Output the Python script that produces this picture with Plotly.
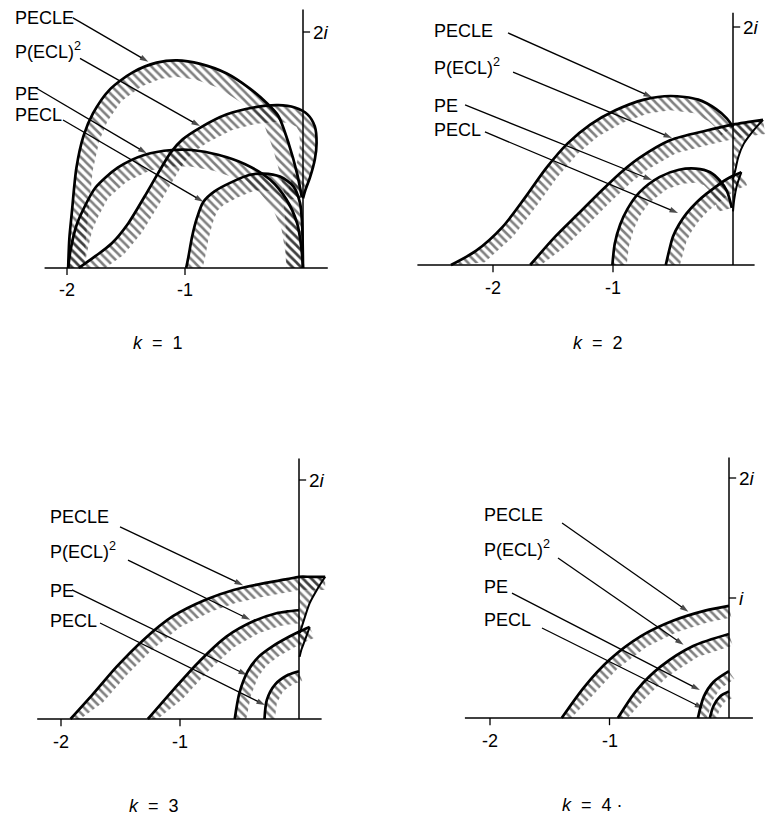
import numpy as np
import plotly.graph_objects as go

FIG_W, FIG_H = 771, 823

# ---------------------------------------------------------------------------
# Stability-region boundaries (real part, imaginary part) for k = 1..4
# "_RX/_RY" arrays are the return branch after a cusp.
# ---------------------------------------------------------------------------
K1_PECLE_X = [-1.99, -1.98, -1.96, -1.92, -1.86, -1.78, -1.64, -1.44, -1.24, -1.07, -0.87, -0.65, -0.45, -0.31, -0.21, -0.12, -0.05, -0.01]
K1_PECLE_Y = [0.0, 0.25, 0.46, 0.85, 1.12, 1.31, 1.51, 1.66, 1.74, 1.76, 1.73, 1.65, 1.52, 1.40, 1.29, 1.05, 0.80, 0.60]
K1_PECL2_X = [-1.90, -1.76, -1.62, -1.48, -1.34, -1.23, -1.12, -1.02, -0.87, -0.65, -0.42, -0.21, -0.07, 0.04, 0.10, 0.115, 0.10, 0.06, 0.02, 0.0]
K1_PECL2_Y = [0.0, 0.10, 0.21, 0.38, 0.61, 0.80, 0.98, 1.09, 1.19, 1.30, 1.36, 1.38, 1.36, 1.30, 1.20, 1.06, 0.92, 0.77, 0.66, 0.59]
K1_PE_X = [-1.99, -1.97, -1.92, -1.86, -1.76, -1.57, -1.34, -1.11, -0.94, -0.72, -0.49, -0.28, -0.14, -0.05, -0.015, 0.0]
K1_PE_Y = [0.0, 0.15, 0.36, 0.50, 0.68, 0.85, 0.96, 1.00, 1.00, 0.96, 0.88, 0.75, 0.58, 0.38, 0.18, 0.0]
K1_PECL_X = [-0.99, -0.97, -0.94, -0.90, -0.845, -0.75, -0.60, -0.45, -0.34, -0.195, -0.08, -0.025, -0.008, 0.0]
K1_PECL_Y = [0.0, 0.10, 0.265, 0.42, 0.56, 0.65, 0.73, 0.79, 0.80, 0.775, 0.69, 0.55, 0.38, 0.0]

K2_PECLE_X = [-2.35, -2.14, -1.92, -1.73, -1.56, -1.38, -1.19, -0.98, -0.74, -0.52, -0.29, -0.14, -0.05, 0.0]
K2_PECLE_Y = [0.0, 0.12, 0.32, 0.57, 0.81, 1.02, 1.18, 1.30, 1.39, 1.42, 1.39, 1.31, 1.23, 1.16]
K2_PECL2_X = [-1.69, -1.48, -1.29, -1.09, -0.92, -0.78, -0.52, -0.22, 0.0, 0.12, 0.25]
K2_PECL2_Y = [0.0, 0.24, 0.43, 0.63, 0.79, 0.90, 1.05, 1.13, 1.18, 1.20, 1.22]
K2_PECL2_RX = [0.25, 0.17, 0.09, 0.045, 0.02, 0.0]
K2_PECL2_RY = [1.22, 1.13, 1.02, 0.91, 0.80, 0.72]
K2_PE_X = [-1.005, -0.985, -0.94, -0.88, -0.78, -0.61, -0.45, -0.31, -0.19, -0.11, -0.05, -0.01]
K2_PE_Y = [0.0, 0.18, 0.34, 0.47, 0.61, 0.74, 0.80, 0.81, 0.78, 0.71, 0.62, 0.48]
K2_PECL_X = [-0.56, -0.53, -0.50, -0.45, -0.39, -0.30, -0.22, -0.14, -0.07, 0.0, 0.07]
K2_PECL_Y = [0.0, 0.13, 0.24, 0.34, 0.43, 0.53, 0.60, 0.66, 0.71, 0.75, 0.78]
K2_PECL_RX = [0.07, 0.03, 0.01, 0.0]
K2_PECL_RY = [0.78, 0.66, 0.55, 0.45]

K3_PECLE_X = [-1.92, -1.73, -1.53, -1.31, -1.06, -0.78, -0.55, -0.30, -0.10, 0.0, 0.10, 0.22]
K3_PECLE_Y = [0.0, 0.21, 0.44, 0.66, 0.86, 1.00, 1.08, 1.135, 1.17, 1.19, 1.19, 1.19]
K3_PECLE_RX = [0.22, 0.15, 0.09, 0.05, 0.023, 0.008]
K3_PECLE_RY = [1.19, 1.08, 0.97, 0.855, 0.77, 0.72]
K3_PECL2_X = [-1.27, -1.06, -0.83, -0.61, -0.38, -0.19, -0.10, 0.0]
K3_PECL2_Y = [0.0, 0.24, 0.49, 0.69, 0.82, 0.885, 0.90, 0.91]
K3_PE_X = [-0.54, -0.50, -0.43, -0.34, -0.22, -0.08, 0.0, 0.09]
K3_PE_Y = [0.0, 0.22, 0.40, 0.52, 0.61, 0.69, 0.73, 0.77]
K3_PE_RX = [0.09, 0.05, 0.02, 0.005]
K3_PE_RY = [0.77, 0.66, 0.58, 0.52]
K3_PECL_X = [-0.29, -0.27, -0.20, -0.09, 0.0]
K3_PECL_Y = [0.0, 0.16, 0.29, 0.37, 0.40]

K4_PECLE_X = [-1.40, -1.21, -1.00, -0.74, -0.47, -0.20, 0.0]
K4_PECLE_Y = [0.0, 0.26, 0.485, 0.68, 0.81, 0.895, 0.935]
K4_PECL2_X = [-0.93, -0.77, -0.57, -0.30, 0.0]
K4_PECL2_Y = [0.0, 0.235, 0.43, 0.60, 0.70]
K4_PE_X = [-0.26, -0.21, -0.13, 0.0]
K4_PE_Y = [0.0, 0.18, 0.30, 0.39]
K4_PECL_X = [-0.16, -0.13, -0.075, 0.0]
K4_PECL_Y = [0.0, 0.10, 0.18, 0.22]

METHOD_LABELS = ["PECLE", "P(ECL)<sup>2</sup>", "PE", "PECL"]
X_TICKS = [-2, -1]
X_TICK_TEXT = ["-2", "-1"]
PANEL_TITLES = ["<i>k</i>  =  1", "<i>k</i>  =  2", "<i>k</i>  =  3", "<i>k</i>  =  4 ·"]
Y_TICKS = [[2], [2], [2], [1, 2]]
Y_TICK_TEXT = [["2<i>i</i>"], ["2<i>i</i>"], ["2<i>i</i>"], ["<i>i</i>", "2<i>i</i>"]]

# ---------------------------------------------------------------------------
# Panel geometry: pixel origin, pixel scale, pixel box, axis extents
# ---------------------------------------------------------------------------
PANELS = [
    dict(ox=303, oy=268, sx=118, sy=118, box=(0, 385, 0, 325), xline=(-2.19, 0.21), ytop=2.19,
         band=0.14, title=(158, 343)),
    dict(ox=733, oy=265, sx=120, sy=119, box=(392, 771, 0, 325), xline=(-2.63, 0.18), ytop=2.12,
         band=0.12, title=(598, 343)),
    dict(ox=299, oy=719, sx=119, sy=119.5, box=(0, 385, 420, 785), xline=(-2.20, 0.19), ytop=2.18,
         band=0.11, title=(154, 806)),
    dict(ox=729, oy=718, sx=119.5, sy=120, box=(392, 771, 420, 785), xline=(-2.21, 0.20), ytop=2.17,
         band=0.10, title=(592, 805)),
]

CURVES = [
    [(K1_PECLE_X, K1_PECLE_Y, None), (K1_PECL2_X, K1_PECL2_Y, None),
     (K1_PE_X, K1_PE_Y, None), (K1_PECL_X, K1_PECL_Y, None)],
    [(K2_PECLE_X, K2_PECLE_Y, None), (K2_PECL2_X, K2_PECL2_Y, (K2_PECL2_RX, K2_PECL2_RY)),
     (K2_PE_X, K2_PE_Y, None), (K2_PECL_X, K2_PECL_Y, (K2_PECL_RX, K2_PECL_RY))],
    [(K3_PECLE_X, K3_PECLE_Y, (K3_PECLE_RX, K3_PECLE_RY)), (K3_PECL2_X, K3_PECL2_Y, None),
     (K3_PE_X, K3_PE_Y, (K3_PE_RX, K3_PE_RY)), (K3_PECL_X, K3_PECL_Y, None)],
    [(K4_PECLE_X, K4_PECLE_Y, None), (K4_PECL2_X, K4_PECL2_Y, None),
     (K4_PE_X, K4_PE_Y, None), (K4_PECL_X, K4_PECL_Y, None)],
]
BAND_SCALE = [
    [1.0, 1.0, 1.0, 1.0],
    [1.0, 1.0, 1.0, 1.0],
    [1.0, 1.0, 0.9, 0.8],
    [1.0, 1.0, 0.8, 0.6],
]

# label anchors (data units) and arrow tail -> tip (data units)
LABEL_POS = [
    [(-2.458, 2.119), (-2.458, 1.84), (-2.458, 1.475), (-2.458, 1.30)],
    [(-2.508, 1.966), (-2.508, 1.67), (-2.508, 1.336), (-2.508, 1.134)],
    [(-2.109, 1.69), (-2.109, 1.41), (-2.109, 1.07), (-2.109, 0.82)],
    [(-2.067, 1.69), (-2.067, 1.41), (-2.067, 1.09), (-2.067, 0.82)],
]
ARROWS = [
    [((-1.95, 2.12), (-1.311, 1.748)), ((-1.89, 1.777), (-0.873, 1.203)),
     ((-2.27, 1.53), (-1.325, 0.972)), ((-2.034, 1.254), (-0.845, 0.562))],
    [((-1.875, 1.95), (-0.675, 1.41)), ((-1.833, 1.62), (-0.508, 1.067)),
     ((-2.233, 1.345), (-0.675, 0.714)), ((-2.067, 1.118), (-0.458, 0.437))],
    [((-1.504, 1.607), (-0.47, 1.12)), ((-1.437, 1.33), (-0.41, 0.83)),
     ((-1.908, 1.08), (-0.437, 0.368)), ((-1.672, 0.803), (-0.286, 0.117))],
    [((-1.397, 1.625), (-0.34, 0.886)), ((-1.431, 1.333), (-0.38, 0.61)),
     ((-1.816, 1.04), (-0.243, 0.233)), ((-1.565, 0.75), (-0.215, 0.08))],
]

FONT = "Liberation Sans, Arial, sans-serif"
INK = "black"
HATCH = dict(shape="\\", size=6, solidity=0.42, fgcolor=INK, bgcolor="rgba(0,0,0,0)")


def band_polygon(xs, ys, w):
    """Strip of width w on the right-hand side of the traversed boundary."""
    x = np.asarray(xs, float)
    y = np.asarray(ys, float)
    dx, dy = np.gradient(x), np.gradient(y)
    n = np.hypot(dx, dy)
    xi = x + w * dy / n
    yi = np.clip(y - w * dx / n, 0, None)
    return np.r_[x, xi[::-1], x[:1]], np.r_[y, yi[::-1], y[:1]]


fig = go.Figure()
annotations = []
layout_axes = {}

for i, (p, curves) in enumerate(zip(PANELS, CURVES)):
    n = "" if i == 0 else str(i + 1)
    xa, ya = "x" + n, "y" + n
    left, right, top, bottom = p["box"]
    layout_axes["xaxis" + n] = dict(
        domain=[left / FIG_W, right / FIG_W],
        range=[(left - p["ox"]) / p["sx"], (right - p["ox"]) / p["sx"]],
        visible=False, anchor=ya, fixedrange=True)
    layout_axes["yaxis" + n] = dict(
        domain=[1 - bottom / FIG_H, 1 - top / FIG_H],
        range=[(p["oy"] - bottom) / p["sy"], (p["oy"] - top) / p["sy"]],
        visible=False, anchor=xa, fixedrange=True)

    # hatched strips
    for j, (cx, cy, ret) in enumerate(curves):
        bx, by = band_polygon(cx, cy, p["band"] * BAND_SCALE[i][j])
        fig.add_trace(go.Scatter(x=bx, y=by, xaxis=xa, yaxis=ya, mode="none",
                                 fill="toself", fillcolor="rgba(0,0,0,0)",
                                 fillpattern=HATCH, hoverinfo="skip", showlegend=False))
        if ret is not None:
            mx = np.asarray(cx, float)
            my = np.asarray(cy, float)
            keep = mx >= -1e-9
            lx = np.r_[mx[keep], ret[0], mx[keep][:1]]
            ly = np.r_[my[keep], ret[1], my[keep][:1]]
            fig.add_trace(go.Scatter(x=lx, y=ly, xaxis=xa, yaxis=ya, mode="none",
                                     fill="toself", fillcolor="rgba(0,0,0,0)",
                                     fillpattern=HATCH, hoverinfo="skip", showlegend=False))

    # axes
    fig.add_trace(go.Scatter(x=list(p["xline"]), y=[0, 0], xaxis=xa, yaxis=ya, mode="lines",
                             line=dict(color=INK, width=1.7), hoverinfo="skip", showlegend=False))
    fig.add_trace(go.Scatter(x=[0, 0], y=[0, p["ytop"]], xaxis=xa, yaxis=ya, mode="lines",
                             line=dict(color=INK, width=1.5), hoverinfo="skip", showlegend=False))
    tx, ty = [], []
    for t in X_TICKS:
        tx += [t, t, None]
        ty += [0, -0.06, None]
    for t in Y_TICKS[i]:
        tx += [0, 0.06, None]
        ty += [t, t, None]
    fig.add_trace(go.Scatter(x=tx, y=ty, xaxis=xa, yaxis=ya, mode="lines",
                             line=dict(color=INK, width=1.3), hoverinfo="skip", showlegend=False))

    # boundary curves
    for cx, cy, ret in curves:
        fig.add_trace(go.Scatter(x=cx, y=cy, xaxis=xa, yaxis=ya, mode="lines",
                                 line=dict(color=INK, width=2.7, shape="spline", smoothing=0.8),
                                 hoverinfo="skip", showlegend=False))
        if ret is not None:
            fig.add_trace(go.Scatter(x=ret[0], y=ret[1], xaxis=xa, yaxis=ya, mode="lines",
                                     line=dict(color=INK, width=2.0, shape="spline", smoothing=0.8),
                                     hoverinfo="skip", showlegend=False))

    # pointer arrows from each label to its boundary
    for (ax0, ay0), (tx0, ty0) in ARROWS[i]:
        fig.add_trace(go.Scatter(x=[ax0, tx0], y=[ay0, ty0], xaxis=xa, yaxis=ya,
                                 mode="lines+markers",
                                 line=dict(color=INK, width=1.3),
                                 marker=dict(symbol="arrow", size=[0, 9], angleref="previous",
                                             color=INK, line=dict(width=0)),
                                 hoverinfo="skip", showlegend=False))

    # tick labels
    for t, s in zip(X_TICKS, X_TICK_TEXT):
        annotations.append(dict(x=t, y=-0.19, xref=xa, yref=ya, text=s, showarrow=False,
                                xanchor="center", yanchor="middle",
                                font=dict(family=FONT, size=18, color=INK)))
    for t, s in zip(Y_TICKS[i], Y_TICK_TEXT[i]):
        annotations.append(dict(x=0.07, y=t, xref=xa, yref=ya, text=s, showarrow=False,
                                xanchor="left", yanchor="middle",
                                font=dict(family=FONT, size=19, color=INK)))

    # method labels
    for lab, (lx, ly) in zip(METHOD_LABELS, LABEL_POS[i]):
        annotations.append(dict(x=lx, y=ly, xref=xa, yref=ya, text=lab, showarrow=False,
                                xanchor="left", yanchor="middle",
                                font=dict(family=FONT, size=18, color=INK)))

    # panel caption
    annotations.append(dict(x=p["title"][0] / FIG_W, y=1 - p["title"][1] / FIG_H,
                            xref="paper", yref="paper", text=PANEL_TITLES[i], showarrow=False,
                            xanchor="center", yanchor="middle",
                            font=dict(family=FONT, size=18, color=INK)))

fig.update_layout(
    width=FIG_W, height=FIG_H,
    margin=dict(l=0, r=0, t=0, b=0),
    paper_bgcolor="white", plot_bgcolor="rgba(0,0,0,0)",
    annotations=annotations,
    showlegend=False,
    **layout_axes,
)

fig.write_html("out.html")
